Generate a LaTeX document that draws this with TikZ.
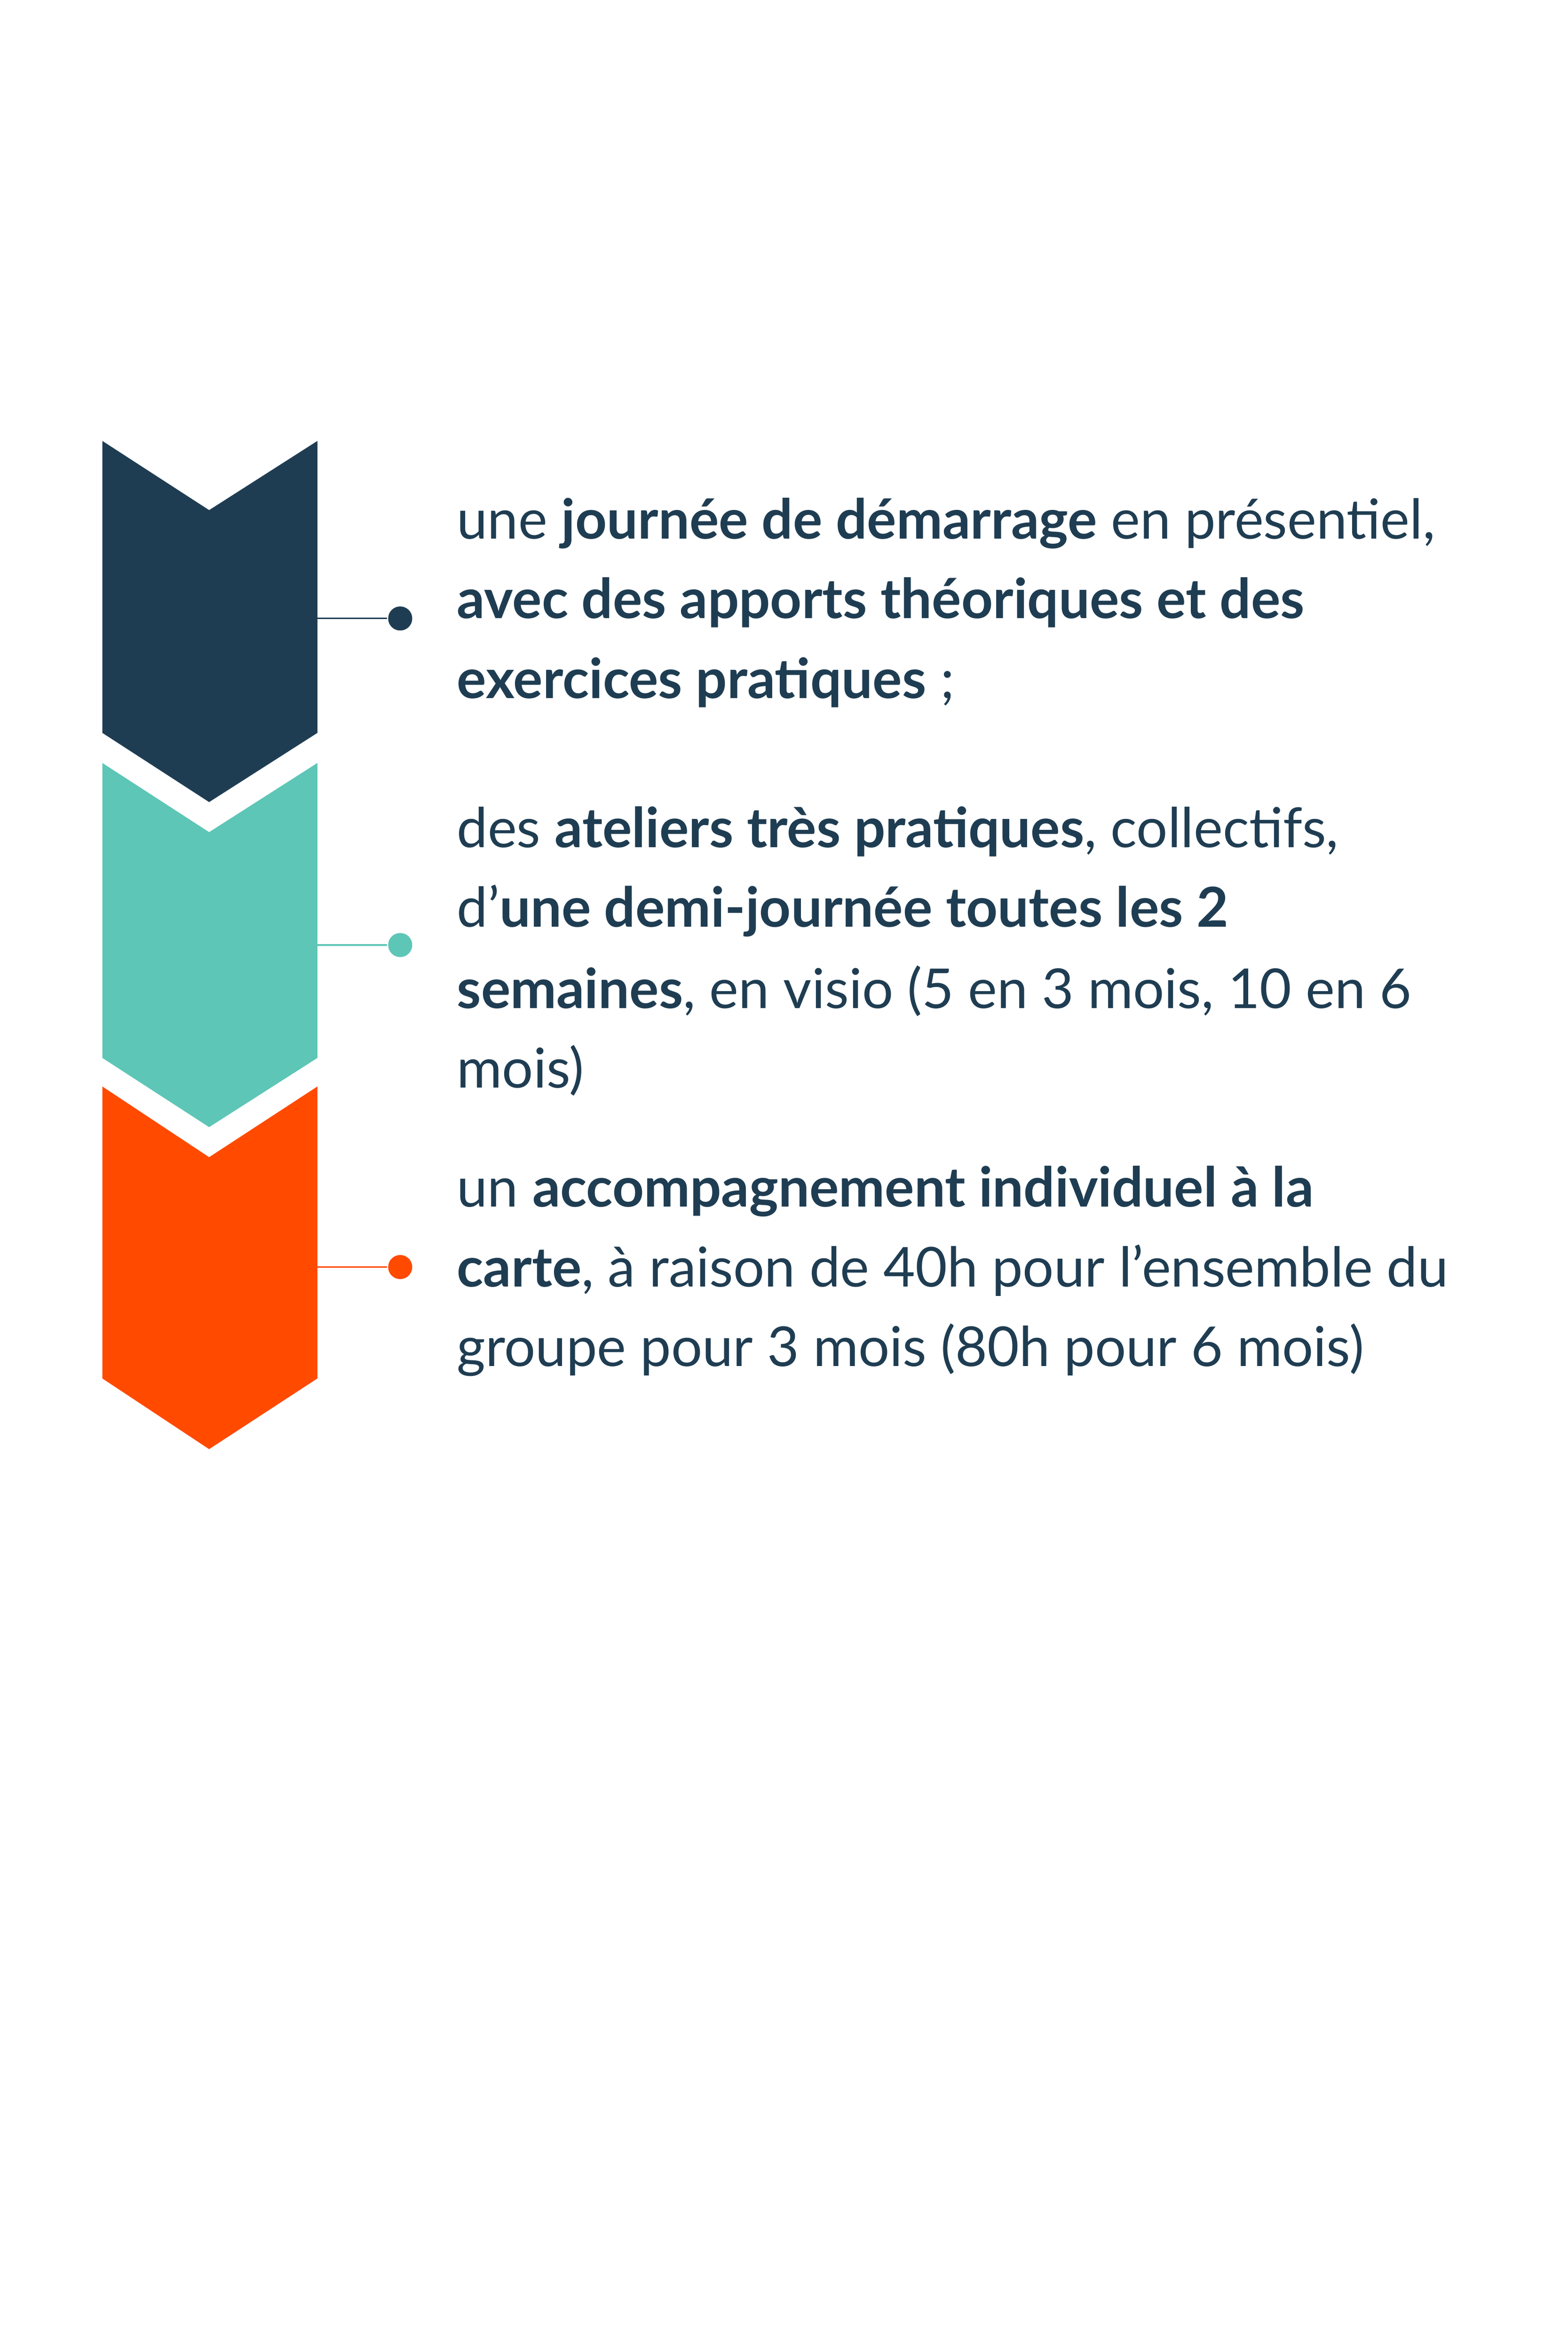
\documentclass[tikz,border=0pt]{standalone}
\usepackage{fontspec}
\setmainfont{Lato}
\definecolor{dk}{HTML}{1F3D52}
\definecolor{tl}{HTML}{5DC6B7}
\definecolor{orr}{HTML}{FF4A00}
\begin{document}
\begin{tikzpicture}[x=0.01cm,y=-0.01cm,
  txt/.style={anchor=base west,inner sep=0,text=dk,font=\fontsize{10.4pt}{15pt}\selectfont},
  dot/.style={circle,inner sep=0,minimum size=0.16cm}]
\useasboundingbox (0,0) rectangle (1042,1563);
\fill[dk] (68,293)--(139,339)--(211,293)--(211,487)--(139,533)--(68,487)--cycle;
\fill[tl] (68,507)--(139,553)--(211,507)--(211,703)--(139,749)--(68,703)--cycle;
\fill[orr] (68,722)--(139,769)--(211,722)--(211,916)--(139,963)--(68,916)--cycle;
\coordinate (c1) at (211,411); \node[dot,fill=dk] (d1) at (266,411) {};
\coordinate (c2) at (211,628); \node[dot,fill=tl] (d2) at (266,628) {};
\coordinate (c3) at (211,842); \node[dot,fill=orr] (d3) at (266,842) {};
\draw[dk,line width=0.3pt] (c1)--(d1);
\draw[tl,line width=0.3pt] (c2)--(d2);
\draw[orr,line width=0.3pt] (c3)--(d3);
\node[txt] (t1) at (303,358) {une \textbf{journée de démarrage} en présentiel,};
\node[txt] (t2) at (303,411) {\textbf{avec des apports théoriques et des}};
\node[txt] (t3) at (303,464) {\textbf{exercices pratiques} ;};
\node[txt] (t4) at (303,563) {des \textbf{ateliers très pratiques}, collectifs,};
\node[txt] (t5) at (303,616) {d'\textbf{une demi-journée toutes les 2}};
\node[txt] (t6) at (303,670) {\textbf{semaines}, en visio (5 en 3 mois, 10 en 6};
\node[txt] (t7) at (303,723) {mois)};
\node[txt] (t8) at (303,802) {un \textbf{accompagnement individuel à la}};
\node[txt] (t9) at (303,855) {\textbf{carte}, à raison de 40h pour l'ensemble du};
\node[txt] (t10) at (303,908) {groupe pour 3 mois (80h pour 6 mois)};
\end{tikzpicture}
\end{document}
